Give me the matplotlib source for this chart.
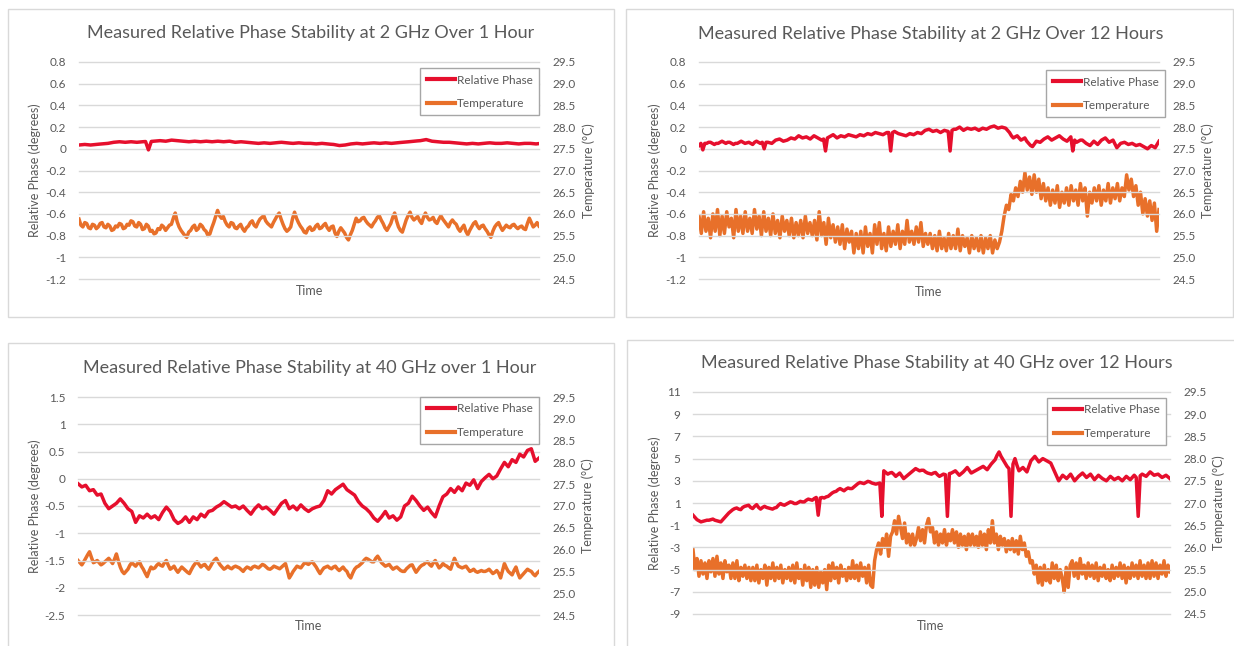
import numpy as np
import matplotlib
matplotlib.use("Agg")
import matplotlib.pyplot as plt
from matplotlib.patches import Rectangle
from matplotlib.lines import Line2D
from matplotlib.ticker import FuncFormatter

plt.rcParams['font.family'] = ['Lato', 'DejaVu Sans']

# ---- data (time axis has no values, only order) ----

# 2 GHz, 1 hour
phase_2g_1h = [
    0.035, 0.037, 0.04, 0.038, 0.035, 0.038, 0.04, 0.043, 0.045, 0.048,
    0.05, 0.055, 0.06, 0.063, 0.065, 0.062, 0.06, 0.063, 0.065, 0.063,
    0.06, 0.063, 0.065, 0.067, -0.01, 0.068, 0.07, 0.072, 0.075, 0.072,
    0.07, 0.075, 0.08, 0.078, 0.075, 0.072, 0.07, 0.068, 0.065, 0.068,
    0.07, 0.068, 0.065, 0.068, 0.07, 0.067, 0.065, 0.068, 0.07, 0.067,
    0.065, 0.068, 0.07, 0.065, 0.06, 0.063, 0.065, 0.062, 0.06, 0.058,
    0.055, 0.052, 0.05, 0.053, 0.055, 0.052, 0.05, 0.053, 0.055, 0.058,
    0.06, 0.057, 0.055, 0.052, 0.05, 0.053, 0.055, 0.052, 0.05, 0.05,
    0.05, 0.048, 0.045, 0.048, 0.05, 0.047, 0.045, 0.042, 0.04, 0.035,
    0.03, 0.032, 0.035, 0.04, 0.045, 0.048, 0.05, 0.047, 0.045, 0.048,
    0.05, 0.053, 0.055, 0.052, 0.05, 0.053, 0.055, 0.052, 0.05, 0.053,
    0.055, 0.058, 0.06, 0.063, 0.065, 0.068, 0.07, 0.073, 0.075, 0.08,
    0.085, 0.078, 0.07, 0.068, 0.065, 0.062, 0.06, 0.06, 0.06, 0.058,
    0.055, 0.052, 0.05, 0.048, 0.045, 0.048, 0.05, 0.048, 0.045, 0.048,
    0.05, 0.053, 0.055, 0.052, 0.05, 0.05, 0.05, 0.053, 0.055, 0.052,
    0.05, 0.048, 0.045, 0.048, 0.05, 0.05, 0.05, 0.048, 0.045, 0.048,
]
temp_2g_1h = [
    25.88, 25.74, 25.70, 25.80, 25.78, 25.68, 25.66, 25.76, 25.74, 25.66, 25.70, 25.78,
    25.80, 25.70, 25.68, 25.76, 25.72, 25.62, 25.64, 25.72, 25.70, 25.78, 25.76, 25.66,
    25.68, 25.76, 25.74, 25.84, 25.82, 25.72, 25.70, 25.80, 25.76, 25.64, 25.66, 25.76,
    25.72, 25.60, 25.62, 25.54, 25.56, 25.66, 25.64, 25.74, 25.70, 25.62, 25.68, 25.74,
    25.76, 25.90, 26.02, 25.82, 25.70, 25.62, 25.56, 25.50, 25.46, 25.58, 25.62, 25.70,
    25.74, 25.62, 25.66, 25.76, 25.72, 25.64, 25.60, 25.50, 25.54, 25.68, 25.80, 25.94,
    26.08, 25.96, 25.90, 25.94, 25.82, 25.74, 25.70, 25.80, 25.78, 25.68, 25.66, 25.72,
    25.76, 25.66, 25.60, 25.68, 25.72, 25.80, 25.84, 25.74, 25.70, 25.80, 25.88, 25.92,
    25.96, 25.84, 25.78, 25.74, 25.70, 25.80, 25.88, 25.96, 26.02, 25.88, 25.76, 25.66,
    25.60, 25.64, 25.70, 25.90, 26.04, 25.90, 25.80, 25.72, 25.66, 25.58, 25.56, 25.66,
    25.70, 25.62, 25.64, 25.72, 25.76, 25.66, 25.68, 25.74, 25.78, 25.68, 25.62, 25.70,
    25.72, 25.56, 25.48, 25.60, 25.68, 25.62, 25.56, 25.46, 25.40, 25.52, 25.62, 25.76,
    25.90, 25.82, 25.84, 25.90, 25.92, 25.84, 25.78, 25.74, 25.70, 25.78, 25.84, 25.92,
    25.96, 25.86, 25.78, 25.68, 25.62, 25.70, 25.78, 25.92, 26.02, 25.84, 25.70, 25.62,
    25.58, 25.72, 25.86, 25.96, 26.04, 25.92, 25.86, 25.90, 25.94, 25.84, 25.78, 25.92,
    26.02, 25.92, 25.86, 25.88, 25.92, 25.82, 25.78, 25.88, 25.96, 25.88, 25.82, 25.76,
    25.70, 25.80, 25.86, 25.80, 25.76, 25.66, 25.60, 25.68, 25.74, 25.60, 25.52, 25.62,
    25.70, 25.78, 25.82, 25.72, 25.66, 25.72, 25.74, 25.66, 25.60, 25.52, 25.46, 25.60,
    25.70, 25.76, 25.80, 25.70, 25.62, 25.68, 25.74, 25.70, 25.68, 25.74, 25.76, 25.70,
    25.66, 25.70, 25.72, 25.66, 25.64, 25.78, 25.90, 25.80, 25.70, 25.74, 25.80, 25.72,
]

# 2 GHz, 12 hours
phase_2g_12h = [
    0.03, 0.05, -0.01, 0.05, 0.05, 0.06, 0.06, 0.05, 0.04, 0.05,
    0.05, 0.06, 0.07, 0.06, 0.05, 0.06, 0.06, 0.05, 0.04, 0.05,
    0.05, 0.06, 0.07, 0.06, 0.05, 0.055, 0.06, 0.05, 0.04, 0.06,
    0.07, 0.06, 0.05, 0.06, 0.00, 0.06, 0.06, 0.055, 0.05, 0.065,
    0.08, 0.085, 0.09, 0.08, 0.07, 0.075, 0.08, 0.09, 0.10, 0.095,
    0.09, 0.105, 0.12, 0.11, 0.10, 0.105, 0.11, 0.10, 0.09, 0.105,
    0.12, 0.11, 0.10, 0.09, 0.08, 0.09, -0.02, 0.10, 0.11, 0.12,
    0.13, 0.115, 0.10, 0.11, 0.12, 0.115, 0.11, 0.12, 0.13, 0.125,
    0.12, 0.115, 0.11, 0.12, 0.13, 0.125, 0.12, 0.13, 0.14, 0.135,
    0.13, 0.14, 0.15, 0.145, 0.14, 0.135, 0.13, 0.14, 0.15, 0.15,
    -0.02, 0.15, 0.16, 0.15, 0.14, 0.135, 0.13, 0.125, 0.12, 0.13,
    0.14, 0.135, 0.13, 0.14, 0.15, 0.145, 0.14, 0.155, 0.17, 0.175,
    0.18, 0.17, 0.16, 0.165, 0.17, 0.16, 0.15, 0.16, 0.17, 0.165,
    0.16, -0.02, 0.17, 0.18, 0.18, 0.19, 0.20, 0.185, 0.17, 0.18,
    0.19, 0.185, 0.18, 0.185, 0.19, 0.18, 0.17, 0.18, 0.19, 0.185,
    0.18, 0.19, 0.20, 0.205, 0.21, 0.20, 0.19, 0.195, 0.20, 0.195,
    0.19, 0.17, 0.15, 0.12, 0.10, 0.11, 0.12, 0.10, 0.08, 0.09,
    0.10, 0.07, 0.05, 0.03, 0.02, 0.045, 0.07, 0.065, 0.06, 0.075,
    0.09, 0.10, 0.11, 0.095, 0.08, 0.09, 0.10, 0.11, 0.12, 0.105,
    0.09, 0.08, 0.07, 0.09, 0.11, -0.02, 0.08, 0.06, 0.07, 0.08,
    0.08, 0.065, 0.05, 0.04, 0.03, 0.05, 0.07, 0.055, 0.04, 0.06,
    0.08, 0.09, 0.10, 0.08, 0.06, 0.07, 0.08, 0.045, 0.01, 0.03,
    0.05, 0.055, 0.06, 0.05, 0.04, 0.045, 0.05, 0.04, 0.03, 0.035,
    0.04, 0.03, 0.02, 0.01, 0.00, 0.015, 0.03, 0.02, 0.01, 0.04, 0.07,
]
temp_2g_12h = [
    25.95, 25.55, 26.05, 25.60, 25.90, 25.45, 26.00, 25.60, 26.10, 25.50,
    25.95, 25.55, 26.05, 25.70, 25.90, 25.45, 26.10, 25.60, 25.95, 25.55,
    26.05, 25.60, 25.90, 25.55, 26.10, 25.65, 25.95, 25.50, 26.05, 25.60,
    25.90, 25.50, 26.00, 25.55, 25.85, 25.45, 25.95, 25.60, 25.85, 25.50,
    25.90, 25.45, 25.80, 25.50, 25.85, 25.45, 25.95, 25.55, 25.80, 25.50,
    25.85, 25.40, 26.05, 25.50, 25.80, 25.30, 25.90, 25.45, 25.75, 25.35,
    25.70, 25.30, 25.75, 25.20, 25.65, 25.35, 25.60, 25.10, 25.55, 25.20,
    25.60, 25.10, 25.70, 25.25, 25.55, 25.10, 25.75, 25.30, 25.80, 25.20,
    25.55, 25.15, 25.70, 25.25, 25.60, 25.30, 25.75, 25.20, 25.60, 25.30,
    25.85, 25.35, 25.60, 25.30, 25.70, 25.35, 25.80, 25.25, 25.55, 25.30,
    25.55, 25.20, 25.50, 25.15, 25.60, 25.20, 25.45, 25.15, 25.55, 25.20,
    25.50, 25.20, 25.65, 25.15, 25.50, 25.25, 25.45, 25.10, 25.50, 25.20,
    25.45, 25.15, 25.50, 25.10, 25.45, 25.20, 25.50, 25.10, 25.40, 25.20,
    25.35, 25.60, 25.95, 26.20, 26.10, 26.45, 26.30, 26.60, 26.40, 26.75,
    26.50, 26.95, 26.55, 26.85, 26.45, 26.90, 26.50, 26.80, 26.35, 26.70,
    26.30, 26.60, 26.20, 26.55, 26.25, 26.65, 26.15, 26.50, 26.25, 26.60,
    26.20, 26.65, 26.30, 26.55, 26.20, 26.70, 26.30, 26.60, 25.95, 26.50,
    26.25, 26.60, 26.30, 26.65, 26.20, 26.55, 26.30, 26.70, 26.25, 26.60,
    26.35, 26.70, 26.30, 26.60, 26.40, 26.90, 26.55, 26.80, 26.40, 26.65,
    26.20, 26.50, 26.00, 26.35, 25.95, 26.30, 25.85, 26.25, 25.60, 26.10,
]

# 40 GHz, 1 hour
phase_40g_1h = [
    -0.09, -0.15, -0.12, -0.22, -0.20, -0.30, -0.28, -0.45, -0.55, -0.50,
    -0.45, -0.37, -0.45, -0.55, -0.60, -0.80, -0.68, -0.72, -0.65, -0.72,
    -0.68, -0.75, -0.62, -0.52, -0.60, -0.75, -0.82, -0.78, -0.70, -0.80,
    -0.70, -0.75, -0.65, -0.70, -0.60, -0.58, -0.52, -0.48, -0.42, -0.47,
    -0.52, -0.50, -0.55, -0.50, -0.58, -0.65, -0.55, -0.48, -0.55, -0.52,
    -0.58, -0.65, -0.55, -0.45, -0.40, -0.55, -0.50, -0.57, -0.48, -0.55,
    -0.60, -0.55, -0.52, -0.50, -0.40, -0.22, -0.28, -0.20, -0.15, -0.10,
    -0.20, -0.25, -0.30, -0.42, -0.50, -0.55, -0.62, -0.72, -0.78, -0.70,
    -0.60, -0.72, -0.68, -0.76, -0.70, -0.50, -0.45, -0.32, -0.40, -0.50,
    -0.58, -0.52, -0.62, -0.70, -0.50, -0.33, -0.28, -0.18, -0.25, -0.15,
    -0.22, -0.08, -0.12, -0.02, -0.18, -0.05, 0.02, 0.08, 0.00, 0.05,
    0.18, 0.30, 0.22, 0.35, 0.30, 0.45, 0.40, 0.52, 0.55, 0.32, 0.38,
]
temp_40g_1h = [
    25.75, 25.70, 25.65, 25.72, 25.80, 25.88, 25.95, 25.82, 25.70, 25.72,
    25.75, 25.70, 25.65, 25.68, 25.72, 25.76, 25.80, 25.74, 25.68, 25.78,
    25.90, 25.74, 25.60, 25.50, 25.45, 25.50, 25.55, 25.64, 25.70, 25.66,
    25.62, 25.68, 25.72, 25.62, 25.55, 25.46, 25.38, 25.50, 25.60, 25.56,
    25.58, 25.64, 25.68, 25.64, 25.62, 25.70, 25.75, 25.64, 25.55, 25.58,
    25.62, 25.54, 25.48, 25.54, 25.60, 25.56, 25.52, 25.48, 25.45, 25.54,
    25.62, 25.68, 25.72, 25.66, 25.60, 25.64, 25.66, 25.60, 25.55, 25.62,
    25.70, 25.76, 25.80, 25.72, 25.65, 25.60, 25.55, 25.58, 25.62, 25.58,
    25.56, 25.60, 25.62, 25.60, 25.58, 25.54, 25.50, 25.56, 25.60, 25.58,
    25.55, 25.60, 25.62, 25.60, 25.58, 25.62, 25.66, 25.64, 25.60, 25.56,
    25.55, 25.58, 25.62, 25.60, 25.58, 25.56, 25.60, 25.64, 25.68, 25.52,
    25.35, 25.42, 25.50, 25.56, 25.62, 25.60, 25.58, 25.64, 25.70, 25.68,
    25.66, 25.70, 25.72, 25.66, 25.60, 25.52, 25.45, 25.52, 25.58, 25.60,
    25.62, 25.58, 25.56, 25.60, 25.62, 25.56, 25.52, 25.56, 25.60, 25.54,
    25.50, 25.40, 25.35, 25.46, 25.55, 25.60, 25.62, 25.66, 25.70, 25.76,
    25.80, 25.78, 25.75, 25.72, 25.72, 25.80, 25.85, 25.78, 25.70, 25.66,
    25.62, 25.64, 25.66, 25.60, 25.55, 25.58, 25.60, 25.56, 25.52, 25.50,
    25.50, 25.56, 25.60, 25.64, 25.65, 25.56, 25.48, 25.54, 25.60, 25.64,
    25.66, 25.70, 25.72, 25.66, 25.62, 25.70, 25.75, 25.66, 25.58, 25.62,
    25.68, 25.64, 25.62, 25.58, 25.55, 25.68, 25.80, 25.70, 25.62, 25.60,
    25.58, 25.60, 25.62, 25.56, 25.50, 25.52, 25.55, 25.50, 25.48, 25.50,
    25.52, 25.50, 25.50, 25.52, 25.55, 25.50, 25.45, 25.48, 25.52, 25.46,
    25.35, 25.52, 25.68, 25.58, 25.50, 25.46, 25.42, 25.52, 25.60, 25.46,
    25.35, 25.40, 25.45, 25.50, 25.55, 25.52, 25.50, 25.44, 25.40, 25.46, 25.50,
]

# 40 GHz, 12 hours
phase_40g_12h = [
    -0.1, -0.3, -0.5, -0.6, -0.7, -0.65, -0.6, -0.55, -0.55, -0.5,
    -0.45, -0.55, -0.6, -0.65, -0.7, -0.5, -0.3, -0.1, 0.1, 0.25,
    0.4, 0.5, 0.55, 0.45, 0.4, 0.6, 0.7, 0.75, 0.8, 0.6,
    0.5, 0.7, 0.85, 0.6, 0.45, 0.6, 0.7, 0.6, 0.55, 0.5,
    0.45, 0.55, 0.6, 0.8, 0.95, 0.85, 0.8, 0.9, 1.0, 1.1,
    1.05, 0.95, 0.95, 1.05, 1.15, 1.1, 1.1, 1.25, 1.35, 1.3,
    1.25, 1.4, 1.5, -0.1, 1.45, 1.5, 1.45, 1.55, 1.6, 1.75,
    1.9, 2.0, 2.05, 2.2, 2.3, 2.2, 2.1, 2.25, 2.35, 2.3,
    2.3, 2.45, 2.6, 2.75, 2.85, 2.8, 2.75, 2.85, 2.95, 2.9,
    2.8, 2.75, 2.7, 2.75, 2.8, -0.2, 3.9, 3.75, 3.6, 3.7,
    3.75, 3.6, 3.4, 3.55, 3.7, 3.45, 3.2, 3.35, 3.5, 3.65,
    3.8, 3.95, 4.1, 4.0, 3.9, 3.95, 3.95, 3.8, 3.7, 3.65,
    3.6, 3.7, 3.75, 3.55, 3.4, 3.5, 3.6, 3.55, -0.2, 3.65,
    3.7, 3.8, 3.9, 3.7, 3.5, 3.65, 3.8, 4.0, 4.2, 3.95,
    3.7, 3.8, 3.9, 4.0, 4.1, 4.2, 4.3, 4.15, 4.0, 4.25,
    4.5, 4.7, 4.9, 5.3, 5.6, 5.2, 4.9, 4.6, 4.3, 4.1,
    -0.2, 4.5, 5.0, 4.4, 3.9, 4.05, 4.2, 4.0, 3.8, 4.3,
    4.8, 5.0, 5.2, 4.95, 4.7, 4.85, 5.0, 4.9, 4.8, 4.7,
    4.6, 4.2, 3.8, 3.4, 3.0, 3.25, 3.5, 3.35, 3.2, 3.4,
    3.6, 3.3, 3.0, 3.2, 3.4, 3.55, 3.7, 3.5, 3.3, 3.45,
    3.6, 3.35, 3.1, 3.3, 3.5, 3.35, 3.2, 3.1, 3.0, 3.2,
    3.4, 3.25, 3.1, 3.2, 3.3, 3.15, 3.0, 3.2, 3.4, 3.25,
    3.1, 3.3, 3.5, 3.3, -0.2, 3.45, 3.6, 3.5, 3.4, 3.6,
    3.8, 3.65, 3.5, 3.55, 3.6, 3.45, 3.3, 3.4, 3.5, 3.35, 3.2,
]
temp_40g_12h = [
    25.95, 25.50, 25.75, 25.35, 25.70, 25.40, 25.65, 25.30, 25.70, 25.45,
    25.75, 25.35, 25.80, 25.40, 25.65, 25.30, 25.70, 25.45, 25.60, 25.30,
    25.65, 25.30, 25.70, 25.25, 25.55, 25.35, 25.60, 25.30, 25.55, 25.25,
    25.55, 25.25, 25.60, 25.20, 25.50, 25.30, 25.60, 25.15, 25.55, 25.30,
    25.65, 25.25, 25.55, 25.30, 25.60, 25.20, 25.50, 25.30, 25.55, 25.25,
    25.60, 25.20, 25.65, 25.30, 25.50, 25.15, 25.60, 25.25, 25.55, 25.10,
    25.50, 25.15, 25.55, 25.10, 25.45, 25.20, 25.50, 25.05, 25.60, 25.25,
    25.65, 25.30, 25.55, 25.20, 25.60, 25.35, 25.50, 25.25, 25.55, 25.30,
    25.70, 25.30, 25.60, 25.25, 25.65, 25.35, 25.55, 25.20, 25.60, 25.15,
    25.10, 25.70, 25.95, 26.10, 25.85, 26.20, 26.00, 26.30, 25.80, 26.25,
    26.35, 26.60, 26.30, 26.70, 26.45, 26.20, 26.55, 26.10, 26.30, 26.05,
    26.30, 26.05, 26.20, 26.45, 26.15, 26.40, 26.10, 26.50, 26.65, 26.35,
    26.45, 26.10, 26.35, 26.05, 26.30, 26.10, 26.40, 26.05, 26.30, 26.15,
    26.40, 26.10, 26.35, 26.00, 26.30, 26.05, 26.25, 25.95, 26.30, 26.05,
    26.30, 26.05, 26.25, 26.00, 26.35, 26.05, 26.30, 25.95, 26.40, 26.10,
    26.60, 26.10, 26.30, 25.95, 26.25, 26.05, 26.20, 25.90, 26.15, 25.95,
    26.20, 25.90, 26.15, 25.85, 26.25, 25.95, 26.10, 25.80, 25.90, 25.65,
    25.70, 25.40, 25.60, 25.20, 25.55, 25.15, 25.60, 25.25, 25.50, 25.20,
    25.65, 25.30, 25.60, 25.25, 25.50, 25.30, 25.00, 25.55, 25.10, 25.60,
    25.70, 25.35, 25.65, 25.30, 25.75, 25.40, 25.60, 25.30, 25.65, 25.35,
    25.60, 25.30, 25.65, 25.25, 25.55, 25.35, 25.60, 25.30, 25.50, 25.25,
    25.60, 25.30, 25.55, 25.35, 25.65, 25.30, 25.60, 25.20, 25.55, 25.30,
    25.65, 25.35, 25.60, 25.30, 25.70, 25.35, 25.60, 25.30, 25.65, 25.30,
    25.70, 25.35, 25.65, 25.30, 25.60, 25.40, 25.70, 25.35, 25.60, 25.45,
]

titles = [
    "Measured Relative Phase Stability at 2 GHz Over 1 Hour",
    "Measured Relative Phase Stability at 2 GHz Over 12 Hours",
    "Measured Relative Phase Stability at 40 GHz over 1 Hour",
    "Measured Relative Phase Stability at 40 GHz over 12 Hours",
]
phase_ticks = [
    [0.8, 0.6, 0.4, 0.2, 0, -0.2, -0.4, -0.6, -0.8, -1, -1.2],
    [0.8, 0.6, 0.4, 0.2, 0, -0.2, -0.4, -0.6, -0.8, -1, -1.2],
    [1.5, 1, 0.5, 0, -0.5, -1, -1.5, -2, -2.5],
    [11, 9, 7, 5, 3, 1, -1, -3, -5, -7, -9],
]
temp_ticks = [24.5, 25.0, 25.5, 26.0, 26.5, 27.0, 27.5, 28.0, 28.5, 29.0, 29.5]

W, H = 1234, 646
RED = '#e60f2d'
ORANGE = '#e8702a'
TXT = '#595959'
GRID = '#d9d9d9'

fig = plt.figure(figsize=(W / 100, H / 100), dpi=100)


def ftext(x, y, s, **kw):
    fig.text(x / W, 1 - y / H, s, color=TXT, ha='center', va='center', **kw)


def panel(box, plot_px, title_xy, time_xy, ylab_x, tlab_x, leg_anchor,
          title, phase, temp, pticks):
    # light border around each chart
    bx0, by0, bx1, by1 = box
    fig.patches.append(Rectangle((bx0 / W, 1 - by1 / H), (bx1 - bx0) / W, (by1 - by0) / H,
                                 transform=fig.transFigure, fill=False,
                                 edgecolor=GRID, lw=1.0))
    x0, y0, x1, y1 = plot_px
    ax = fig.add_axes([x0 / W, 1 - y1 / H, (x1 - x0) / W, (y1 - y0) / H])
    ax2 = ax.twinx()

    ax2.plot(np.linspace(0, 1, len(temp)), temp, color=ORANGE, lw=2.5,
             solid_joinstyle='round')
    ax.plot(np.linspace(0, 1, len(phase)), phase, color=RED, lw=2.5,
            solid_joinstyle='round')

    ax.set_xlim(0, 1)
    ax.set_ylim(min(pticks), max(pticks))
    ax.set_yticks(pticks)
    ax.yaxis.set_major_formatter(FuncFormatter(lambda v, p: '{:g}'.format(round(v, 3))))
    ax2.set_ylim(24.5, 29.5)
    ax2.set_yticks(temp_ticks)
    ax2.yaxis.set_major_formatter(FuncFormatter(lambda v, p: '{:.1f}'.format(v)))
    ax.set_xticks([])

    for a in (ax, ax2):
        for s in a.spines.values():
            s.set_visible(False)
        a.tick_params(length=0, labelsize=8.5, labelcolor=TXT)
    ax.tick_params(axis='y', pad=9)
    ax2.tick_params(axis='y', pad=10)

    ax.yaxis.grid(True, color=GRID, lw=1.0)
    for gl in ax.get_ygridlines():
        gl.set_clip_on(False)
    ax.set_axisbelow(True)

    # phase drawn above temperature
    ax.set_zorder(ax2.get_zorder() + 1)
    ax.patch.set_visible(False)

    handles = [Line2D([], [], color=RED, lw=3), Line2D([], [], color=ORANGE, lw=3)]
    leg = ax.legend(handles, ['Relative Phase', 'Temperature'], loc='upper right',
                    bbox_to_anchor=leg_anchor, borderaxespad=0, fontsize=8.5,
                    frameon=True, fancybox=False, framealpha=1, edgecolor='#a6a6a6',
                    handlelength=2.4, handletextpad=0.15, labelspacing=1.05,
                    borderpad=0.55)
    leg.get_frame().set_linewidth(1.0)
    for t in leg.get_texts():
        t.set_color(TXT)

    ftext(*title_xy, title, fontsize=13)
    ftext(*time_xy, 'Time', fontsize=9)
    yc = (y0 + y1) / 2
    ftext(ylab_x, yc, 'Relative Phase (degrees)', fontsize=9, rotation=90)
    ftext(tlab_x, yc, 'Temperature (°C)', fontsize=9, rotation=90)


panel((8, 9, 614, 317), (79, 62, 539, 279), (311, 33), (310, 291), 35, 589,
      (1.0, 0.972), titles[0], phase_2g_1h, temp_2g_1h, phase_ticks[0])
panel((626, 9, 1233, 317), (699, 62, 1159, 279), (931, 34), (929, 292), 655, 1208,
      (1.013, 0.963), titles[1], phase_2g_12h, temp_2g_12h, phase_ticks[1])
panel((8, 343, 614, 660), (78, 397, 539, 615), (310, 368), (309, 626), 35, 588,
      (1.0, 1.0), titles[2], phase_40g_1h, temp_40g_1h, phase_ticks[2])
panel((627, 340, 1240, 660), (693, 392, 1170, 614), (937, 363), (931, 626), 655, 1219,
      (0.992, 0.973), titles[3], phase_40g_12h, temp_40g_12h, phase_ticks[3])

fig.savefig('out.png', dpi=100, facecolor='white')
